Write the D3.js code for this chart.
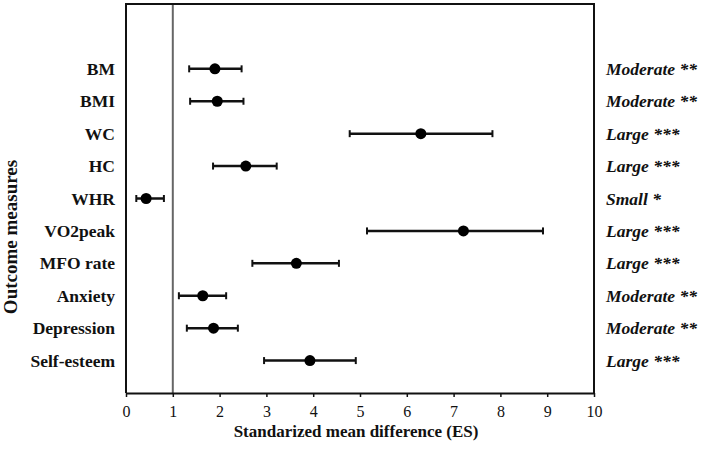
<!DOCTYPE html>
<html>
<head>
<meta charset="utf-8">
<script src="https://cdn.jsdelivr.net/npm/d3@7"></script>
<style>
  body { margin: 0; background: #fff; }
  text { font-family: "Liberation Serif", "Times New Roman", serif; fill: #111; }
</style>
</head>
<body>
<div id="chart"></div>
<script>
// outcome measures, top to bottom
var measures = ["BM", "BMI", "WC", "HC", "WHR", "VO2peak", "MFO rate", "Anxiety", "Depression", "Self-esteem"];
var es = [1.90, 1.95, 6.30, 2.56, 0.43, 7.21, 3.64, 1.64, 1.87, 3.93];
var ciLow = [1.35, 1.37, 4.78, 1.86, 0.22, 5.15, 2.70, 1.13, 1.30, 2.95];
var ciHigh = [2.47, 2.51, 7.83, 3.22, 0.81, 8.91, 4.55, 2.14, 2.39, 4.91];
var magnitude = ["Moderate **", "Moderate **", "Large ***", "Large ***", "Small *", "Large ***", "Large ***", "Moderate **", "Moderate **", "Large ***"];
var xTicks = [0, 1, 2, 3, 4, 5, 6, 7, 8, 9, 10];

var width = 702, height = 451;
var margin = { top: 4, right: 108, bottom: 58, left: 126 };

var x = d3.scaleLinear()
    .domain([0, 10])
    .range([margin.left, width - margin.right]);
// rows sit at slots 2..11 of a 12-slot vertical range
var y = d3.scaleLinear()
    .domain([0, 12])
    .range([margin.top, height - margin.bottom]);

var data = measures.map(function (m, i) {
    return { name: m, es: es[i], lo: ciLow[i], hi: ciHigh[i], mag: magnitude[i], slot: i + 2 };
});

var svg = d3.select("#chart").append("svg")
    .attr("width", width)
    .attr("height", height);

// reference line at ES = 1
svg.append("line")
    .attr("x1", x(1)).attr("x2", x(1))
    .attr("y1", y(0)).attr("y2", y(12))
    .attr("stroke", "#666")
    .attr("stroke-width", 2);

// x axis
var xAxis = svg.append("g")
    .attr("transform", "translate(0," + y(12) + ")")
    .call(d3.axisBottom(x).tickValues(xTicks).tickSize(4).tickSizeOuter(0).tickPadding(9));
xAxis.select(".domain").attr("stroke", "#111").attr("stroke-width", 2);
xAxis.selectAll(".tick line").attr("stroke", "#111").attr("stroke-width", 1.5);
xAxis.selectAll(".tick text")
    .style("font-family", "'Liberation Serif', serif")
    .style("font-size", "16px")
    .attr("fill", "#111");

// frame: left, top, right
svg.append("path")
    .attr("d", "M" + x(0) + "," + y(12) + "V" + y(0) + "H" + x(10) + "V" + y(12))
    .attr("fill", "none")
    .attr("stroke", "#111")
    .attr("stroke-width", 2);

// error bars
var rows = svg.selectAll(".row")
    .data(data)
    .join("g")
    .attr("class", "row");

rows.append("line")
    .attr("x1", function (d) { return x(d.lo); })
    .attr("x2", function (d) { return x(d.hi); })
    .attr("y1", function (d) { return y(d.slot); })
    .attr("y2", function (d) { return y(d.slot); })
    .attr("stroke", "#111")
    .attr("stroke-width", 2.5);

rows.selectAll(".cap")
    .data(function (d) { return [{ v: d.lo, s: d.slot }, { v: d.hi, s: d.slot }]; })
    .join("line")
    .attr("class", "cap")
    .attr("x1", function (d) { return x(d.v); })
    .attr("x2", function (d) { return x(d.v); })
    .attr("y1", function (d) { return y(d.s) - 3.5; })
    .attr("y2", function (d) { return y(d.s) + 3.5; })
    .attr("stroke", "#111")
    .attr("stroke-width", 2);

rows.append("circle")
    .attr("cx", function (d) { return x(d.es); })
    .attr("cy", function (d) { return y(d.slot); })
    .attr("r", 5.5)
    .attr("fill", "#000");

// row labels
rows.append("text")
    .attr("x", x(0) - 11)
    .attr("y", function (d) { return y(d.slot) + 6; })
    .attr("text-anchor", "end")
    .style("font-size", "17.5px")
    .style("font-weight", "bold")
    .text(function (d) { return d.name; });

// magnitude labels
rows.append("text")
    .attr("x", 606)
    .attr("y", function (d) { return y(d.slot) + 6; })
    .style("font-size", "17.5px")
    .style("font-weight", "bold")
    .style("font-style", "italic")
    .text(function (d) { return d.mag; });

// axis titles
svg.append("text")
    .attr("x", x(5) - 4)
    .attr("y", 437)
    .attr("text-anchor", "middle")
    .style("font-size", "17px")
    .style("font-weight", "bold")
    .text("Standarized mean difference (ES)");

svg.append("text")
    .attr("transform", "translate(17,237) rotate(-90)")
    .attr("text-anchor", "middle")
    .style("font-size", "19px")
    .style("font-weight", "bold")
    .text("Outcome measures");
</script>
</body>
</html>
